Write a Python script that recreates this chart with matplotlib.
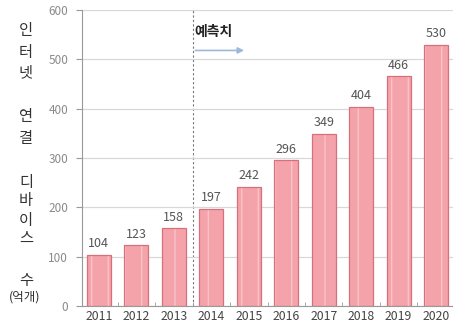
import matplotlib
matplotlib.use("Agg")
import matplotlib.pyplot as plt
import numpy as np

plt.rcParams['font.family'] = ['Noto Sans CJK KR', 'DejaVu Sans']

years = ['2011', '2012', '2013', '2014', '2015', '2016', '2017', '2018', '2019', '2020']
values = [104, 123, 158, 197, 242, 296, 349, 404, 466, 530]
yticks = [0, 100, 200, 300, 400, 500, 600]
ylabel_chars = ['인', '터', '넷', '연', '결', '디', '바', '이', '스', '수']
ylabel_pos = [31, 52, 73, 117, 139, 182, 201, 220, 239, 281]
unit_text = '(억개)'
forecast_text = '예측치'

fig = plt.figure(figsize=(4.53, 3.32), dpi=100)
W, H = 453, 332
ax = fig.add_axes([82 / W, 1 - 306 / H, (453 - 82) / W, (306 - 10) / H])

x = np.arange(len(years))
ax.bar(x, values, width=0.64, color='#F5A3AB', edgecolor='none', zorder=2)
ax.bar(x, values, width=0.64, fill=False, hatch='|', edgecolor='#F9C3C8', linewidth=0, zorder=3)
ax.bar(x, values, width=0.64, fill=False, edgecolor='#D8707C', linewidth=0.9, zorder=4)

for xi, v in zip(x, values):
    ax.text(xi, v + 9, str(v), ha='center', va='bottom', fontsize=9, color='#555555', zorder=5)

ax.set_xlim(-0.45, len(years) - 0.55)
ax.set_ylim(0, 600)
ax.set_yticks(yticks)
ax.set_yticklabels([str(t) for t in yticks], fontsize=8.5, color='#8a8a8a')
ax.set_xticks(x)
ax.set_xticklabels(years, fontsize=8.8, color='#444444')
ax.tick_params(axis='x', length=0, pad=3)
ax.tick_params(axis='y', length=4, color='#999999', direction='out', pad=6)
ax.set_xticks(x[:-1] + 0.5, minor=True)
ax.tick_params(axis='x', which='minor', length=3, direction='in', color='#999999')

ax.grid(axis='y', color='#d8d8d8', linewidth=0.9, zorder=0)
for s in ['top', 'right']:
    ax.spines[s].set_visible(False)
ax.spines['left'].set_color('#999999')
ax.spines['bottom'].set_color('#999999')

ax.axvline(2.5, color='#777777', linestyle=(0, (2, 2)), linewidth=0.8, zorder=1)
ax.text(2.55, 555, forecast_text, fontsize=10, color='#222222', ha='left', va='center', fontweight='bold')
ax.annotate('', xy=(3.95, 518), xytext=(2.5, 518),
            arrowprops=dict(arrowstyle='-|>', color='#9DB8D8', lw=1.2, mutation_scale=9))

for ch, yp in zip(ylabel_chars, ylabel_pos):
    fig.text(26 / W, 1 - yp / H, ch, fontsize=11, color='#333333', ha='center', va='center')
fig.text(25 / W, 1 - 297 / H, unit_text, fontsize=9, color='#333333', ha='center', va='center')

fig.savefig('out.png', dpi=100)
